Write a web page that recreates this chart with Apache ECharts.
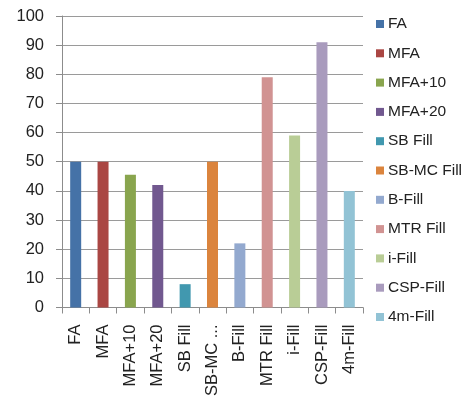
<!DOCTYPE html>
<html>
<head>
<meta charset="utf-8">
<script src="https://cdn.jsdelivr.net/npm/echarts@6/dist/echarts.min.js"></script>
<style>
  html, body { margin: 0; padding: 0; background: #fff; }
  #chart { width: 470px; height: 399px; }
</style>
</head>
<body>
<div id="chart"></div>
<script>
// Fill methods and their scores
const categories = ['FA', 'MFA', 'MFA+10', 'MFA+20', 'SB Fill', 'SB-MC Fill', 'B-Fill', 'MTR Fill', 'i-Fill', 'CSP-Fill', '4m-Fill'];
const values = [50, 50, 45.5, 42, 8, 50, 22, 79, 59, 91, 40];
const colors = ['#4572A7', '#AA4643', '#89A54E', '#71588F', '#4198AF', '#DB843D', '#93A9CF', '#D19392', '#B9CD96', '#A99BBD', '#92C3D5'];
const yTicks = [0, 10, 20, 30, 40, 50, 60, 70, 80, 90, 100];

const FONT = 'Liberation Sans';

// One series per method so each gets its own legend entry; stacking keeps bars centred.
const series = categories.map((name, i) => ({
  name: name,
  type: 'bar',
  stack: 'all',
  barWidth: 11,
  itemStyle: { color: colors[i] },
  data: categories.map((_, j) => (j === i ? values[i] : null))
}));

const chart = echarts.init(document.getElementById('chart'));
chart.setOption({
  animation: false,
  textStyle: { fontFamily: FONT },
  grid: { left: 62, top: 16, right: 107, bottom: 91, containLabel: false },
  legend: {
    orient: 'vertical',
    left: 371,
    top: 11,
    itemWidth: 8,
    itemHeight: 8,
    itemGap: 13.3,
    icon: 'rect',
    textStyle: { fontFamily: FONT, fontSize: 15.5, color: '#222', padding: [0, 0, 0, -1] },
    data: categories
  },
  xAxis: {
    type: 'category',
    data: categories,
    axisLine: { lineStyle: { color: '#8c8c8c' } },
    axisTick: { show: true, length: 6, lineStyle: { color: '#8c8c8c' } },
    axisLabel: {
      rotate: 90,
      interval: 0,
      margin: 17,
      fontSize: 16.5,
      color: '#222',
      width: 74,
      overflow: 'truncate',
      ellipsis: '...'
    }
  },
  yAxis: {
    type: 'value',
    min: yTicks[0],
    max: yTicks[yTicks.length - 1],
    interval: 10,
    axisLine: { show: true, lineStyle: { color: '#8c8c8c' } },
    axisTick: { show: true, length: 6, lineStyle: { color: '#8c8c8c' } },
    axisLabel: { fontSize: 16.5, color: '#222', margin: 18 },
    splitLine: { lineStyle: { color: '#9a9a9a' } }
  },
  series: series
});
</script>
</body>
</html>
